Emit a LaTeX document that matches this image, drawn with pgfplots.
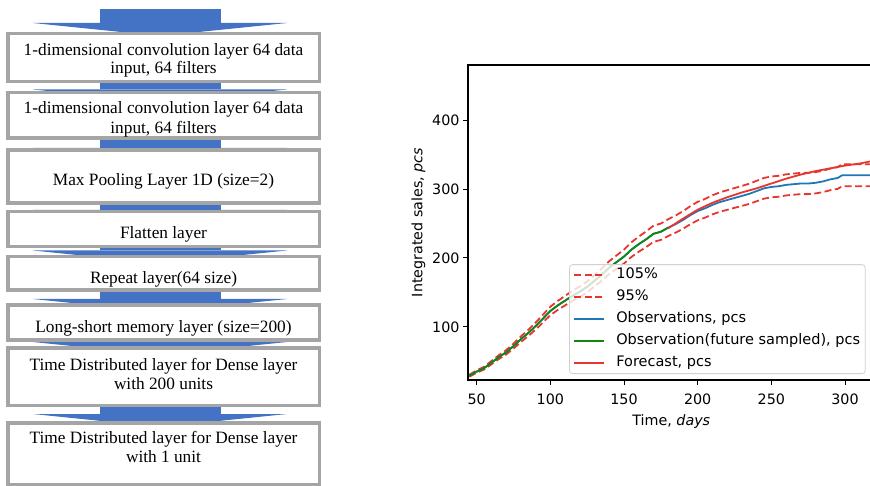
\documentclass[border=0pt]{standalone}
\usepackage{fontspec}
\setmainfont{DejaVu Sans}
\newfontfamily\boxfont{Liberation Serif}
\usepackage{pgfplots}
\usepackage{pgfplotstable}
\pgfplotsset{compat=1.18}

\definecolor{arrowblue}{HTML}{4472C4}
\definecolor{boxgray}{HTML}{A5A5A5}
\definecolor{obsblue}{HTML}{1F77B4}
\definecolor{obsgreen}{HTML}{108810}
\definecolor{fcred}{HTML}{E8352F}

% observations with the 105% / 95% bands
\pgfplotstableread{
day obs hi lo
45 29 30.5 27.6
50 35 36.8 33.3
55 40 42.0 38.0
60 48 50.4 45.6
65 56 58.8 53.2
70 63 66.2 59.9
75 72 75.6 68.4
80 82 86.1 77.9
85 91 95.6 86.5
90 101 106.1 96.0
95 112 117.6 106.4
100 123 129.2 116.9
105 131 137.6 124.5
110 138 144.9 131.1
115 145 152.3 137.8
120 151 158.6 143.5
125 158 165.9 150.1
130 167 175.4 158.7
135 176 184.8 167.2
140 186 195.3 176.7
145 194 203.7 184.3
150 202 212.1 191.9
155 212 222.6 201.4
160 220 231.0 209.0
165 227 238.4 215.7
170 235 246.8 223.3
175 238 249.9 226.1
180 244 256.2 231.8
185 249 261.5 236.6
190 255 267.8 242.3
195 262 275.1 248.9
200 268 281.4 254.6
205 272 285.6 258.4
210 277 290.9 263.2
215 281 295.1 267.0
220 284 298.2 269.8
225 287 301.4 272.7
230 290 304.5 275.5
235 293 307.7 278.4
240 297 311.9 282.2
245 301 316.1 286.0
250 303 318.2 287.9
255 304 319.2 288.8
260 306 321.3 290.7
265 307 322.4 291.7
270 308 323.4 292.6
275 308 323.4 292.6
280 309 324.5 293.6
285 311 326.6 295.5
290 314 329.7 298.3
295 316 331.8 300.2
298 320 336.0 304.0
310 320 336.0 304.0
322 320 336.0 304.0
}\obsdata

\pgfplotstableread{
day fc
180 243
190 257
200 270
210 280
220 288
230 295
240 301
250 308
260 315
270 321
280 326
290 330
300 334
310 337
317 340
322 341
}\fcdata

\newcommand\layerbox[2]{%
  \draw[boxgray, line width=3.5pt, fill=white] (7.75,#1+1.75) rectangle (319.25,#2-1.75);}
\newcommand\boxtext[2]{%
  \node[anchor=base, inner sep=0pt, font=\boxfont\fontsize{17.3}{20}\selectfont] at (163.5,#1) {#2};}

\begin{document}
\begin{tikzpicture}
\useasboundingbox (0,0) rectangle (870pt,485pt);
\clip (0,0) rectangle (870pt,485pt);

% flow chart, drawn in image pixels (y down)
\begin{scope}[x=1pt, y=-1pt, shift={(0pt,485pt)}]
  \foreach \a/\b in {9/23, 83/89.5, 140/148, 205/210, 247/250.5, 291/299, 338/342, 406/414} {
    \fill[arrowblue] (100,\a) rectangle (221,\b);
    \fill[arrowblue] (33,\b) -- (287,\b) -- (160,\b+13) -- cycle;
  }
  \layerbox{31.7}{83.3}
  \boxtext{55.5}{1-dimensional convolution layer 64 data}
  \boxtext{73.8}{input, 64 filters}
  \layerbox{90.7}{140}
  \boxtext{113.8}{1-dimensional convolution layer 64 data}
  \boxtext{133.2}{input, 64 filters}
  \layerbox{148.3}{205}
  \boxtext{185.5}{Max Pooling Layer 1D (size=2)}
  \layerbox{210}{248.3}
  \boxtext{238.8}{Flatten layer}
  \layerbox{255}{291.7}
  \boxtext{283.8}{Repeat layer(64 size)}
  \layerbox{303.3}{341.7}
  \boxtext{332.2}{Long-short memory layer (size=200)}
  \layerbox{346}{407.3}
  \boxtext{370.5}{Time Distributed layer for Dense layer}
  \boxtext{389.5}{with 200 units}
  \layerbox{421}{486}
  \boxtext{443.8}{Time Distributed layer for Dense layer}
  \boxtext{462.2}{with 1 unit}
\end{scope}

\begin{axis}[
    at={(468pt,105pt)}, anchor=south west,
    scale only axis,
    width=406.5pt, height=315pt,
    xmin=44.1, xmax=320,
    ymin=22.8, ymax=480,
    xtick={50,100,150,200,250,300},
    ytick={100,200,300,400},
    xtick pos=left, ytick pos=left,
    tick align=outside,
    major tick length=5pt,
    every tick/.style={black, line width=1pt},
    axis line style={black, line width=1.1pt},
    /pgf/number format/assume math mode=true,
    tick label style={font=\fontsize{14.3}{16}\selectfont},
    xticklabel style={yshift=-5pt},
    label style={font=\fontsize{14.3}{16}\selectfont},
    xlabel style={yshift=-3pt},
    xlabel={Time, \textit{days}},
    ylabel={Integrated sales, \textit{pcs}},
    legend cell align=left,
    legend image code/.code={\draw[#1] (0pt,0pt) -- (30pt,0pt);},
    legend style={
        at={(0.978,0.019)}, anchor=south east,
        fill=white, fill opacity=0.8, text opacity=1, draw opacity=1,
        draw=black!18, line width=0.8pt, rounded corners=3pt,
        font=\fontsize{14.5}{16}\selectfont,
        inner xsep=4pt, inner ysep=3pt,
        row sep=7pt, column sep=10pt,
        nodes={inner sep=1pt, text height=10pt, text depth=3pt},
    },
]
\addplot[fcred, line width=1.8pt, dash pattern=on 7pt off 3.5pt] table[x=day, y=hi] {\obsdata};
\addlegendentry{105\%}
\addplot[fcred, line width=1.8pt, dash pattern=on 7pt off 3.5pt] table[x=day, y=lo] {\obsdata};
\addlegendentry{95\%}
\addplot[obsblue, line width=1.8pt] table[x=day, y=obs] {\obsdata};
\addlegendentry{Observations, pcs}
\addplot[obsgreen, line width=1.8pt, restrict x to domain=40:180] table[x=day, y=obs] {\obsdata};
\addlegendentry{Observation(future sampled), pcs}
\addplot[fcred, line width=1.8pt] table[x=day, y=fc] {\fcdata};
\addlegendentry{Forecast, pcs}
\end{axis}
\end{tikzpicture}
\end{document}
